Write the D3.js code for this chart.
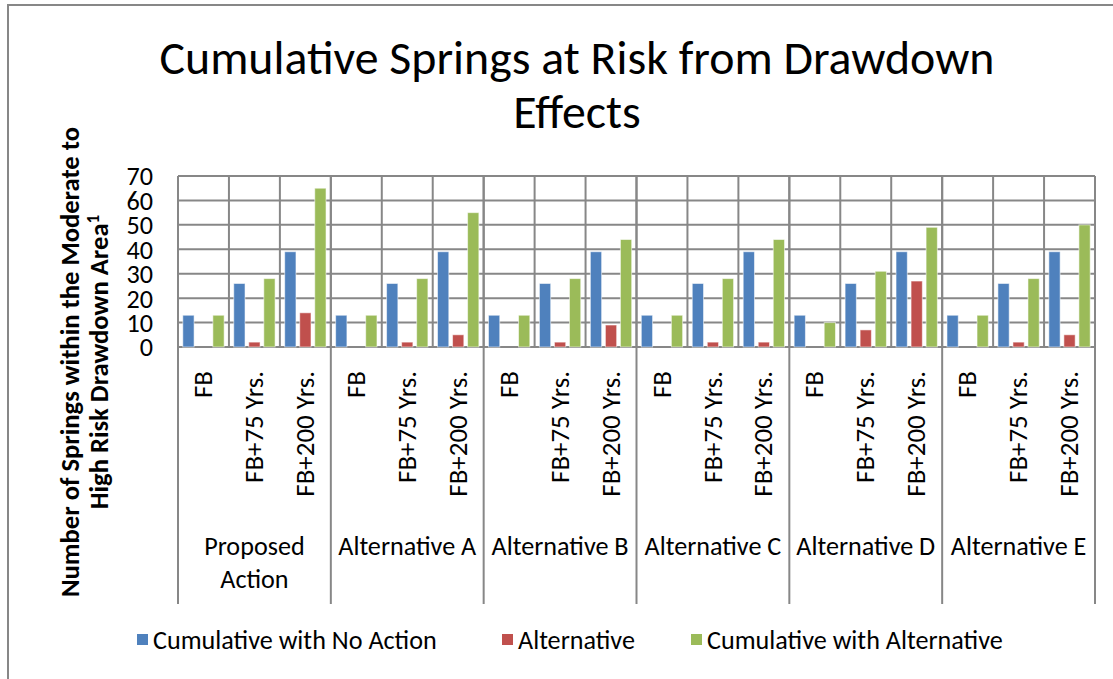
<!DOCTYPE html>
<html>
<head>
<meta charset="utf-8">
<script src="https://cdn.jsdelivr.net/npm/d3@7"></script>
<style>
  body { margin: 0; background: #fff; }
  svg { display: block; }
  text { font-family: Carlito, Lato, sans-serif; fill: #000; }
</style>
</head>
<body>
<div id="chart"></div>
<script>
// chart values
var groups = ["Proposed Action", "Alternative A", "Alternative B", "Alternative C", "Alternative D", "Alternative E"];
var periods = ["FB", "FB+75 Yrs.", "FB+200 Yrs."];
var seriesNames = ["Cumulative with No Action", "Alternative", "Cumulative with Alternative"];
var noAction = [13, 26, 39, 13, 26, 39, 13, 26, 39, 13, 26, 39, 13, 26, 39, 13, 26, 39];
var alternative = [0, 2, 14, 0, 2, 5, 0, 2, 9, 0, 2, 2, 0, 7, 27, 0, 2, 5];
var withAlternative = [13, 28, 65, 13, 28, 55, 13, 28, 44, 13, 28, 44, 10, 31, 49, 13, 28, 50];
var yTicks = [0, 10, 20, 30, 40, 50, 60, 70];

var colors = ["#4F81BD", "#C0504D", "#9BBB59"];
var gridColor = "#878787";

var width = 1113, height = 679;
var plotLeft = 178, plotRight = 1095, plotTop = 176, plotBottom = 347, axisBottom = 604;

var svg = d3.select("#chart").append("svg")
    .attr("width", width)
    .attr("height", height);

// outer chart border (runs off the right and bottom of the picture)
svg.append("rect")
    .attr("x", 8).attr("y", 5)
    .attr("width", width + 20).attr("height", height + 20)
    .attr("fill", "none")
    .attr("stroke", gridColor)
    .attr("stroke-width", 2);

// work out font sizes so the text widths match the picture
function sizeFor(txt, target, weight) {
    var t = svg.append("text").attr("font-size", 100).attr("font-weight", weight || "normal").text(txt);
    var w = t.node().getComputedTextLength();
    t.remove();
    return 100 * target / w;
}
var axisSize = sizeFor("Alternative", 117);
var titleSize = sizeFor("Cumulative Springs at Risk from Drawdown", 835);
var yTitleSize = sizeFor("Number of Springs within the Moderate to", 470, "bold");

// one row per category (group x period)
var rows = [];
groups.forEach(function(g, gi) {
    periods.forEach(function(p, pi) {
        var i = gi * periods.length + pi;
        rows.push({ key: g + "|" + p, group: g, period: p, values: [noAction[i], alternative[i], withAlternative[i]] });
    });
});

var x = d3.scaleBand()
    .domain(rows.map(function(d) { return d.key; }))
    .range([plotLeft, plotRight]);

var xGroup = d3.scaleBand()
    .domain(groups)
    .range([plotLeft, plotRight]);

var xSeries = d3.scaleBand()
    .domain(d3.range(seriesNames.length))
    .range([0, x.bandwidth()])
    .paddingInner(0.25)
    .paddingOuter(0.32);

var y = d3.scaleLinear()
    .domain([0, 70])
    .range([plotBottom, plotTop]);

// horizontal gridlines
svg.append("g")
    .selectAll("line")
    .data(yTicks)
    .enter().append("line")
    .attr("x1", plotLeft).attr("x2", plotRight)
    .attr("y1", function(d) { return y(d); })
    .attr("y2", function(d) { return y(d); })
    .attr("stroke", gridColor)
    .attr("stroke-width", 2);

// vertical lines between categories inside the plot
svg.append("g")
    .selectAll("line")
    .data(rows)
    .enter().append("line")
    .attr("x1", function(d) { return x(d.key); })
    .attr("x2", function(d) { return x(d.key); })
    .attr("y1", plotTop).attr("y2", plotBottom)
    .attr("stroke", gridColor)
    .attr("stroke-width", 2);

// group separators, running down through the axis labels
svg.append("g")
    .selectAll("line")
    .data(groups.concat(["end"]))
    .enter().append("line")
    .attr("x1", function(d) { return d === "end" ? plotRight : xGroup(d); })
    .attr("x2", function(d) { return d === "end" ? plotRight : xGroup(d); })
    .attr("y1", plotTop).attr("y2", axisBottom)
    .attr("stroke", gridColor)
    .attr("stroke-width", 2);

// bars
var cat = svg.append("g")
    .selectAll("g")
    .data(rows)
    .enter().append("g")
    .attr("transform", function(d) { return "translate(" + x(d.key) + ",0)"; });

cat.selectAll("rect")
    .data(function(d) { return d.values.map(function(v, i) { return { v: v, i: i }; }).filter(function(e) { return e.v > 0; }); })
    .enter().append("rect")
    .attr("x", function(d) { return xSeries(d.i); })
    .attr("width", xSeries.bandwidth())
    .attr("y", function(d) { return y(d.v); })
    .attr("height", function(d) { return y(0) - y(d.v); })
    .attr("fill", function(d) { return colors[d.i]; })
    .attr("stroke", "#ffffff")
    .attr("stroke-opacity", 0.55)
    .attr("stroke-width", 1);

// y tick labels
svg.append("g")
    .selectAll("text")
    .data(yTicks)
    .enter().append("text")
    .attr("x", 153)
    .attr("y", function(d) { return y(d); })
    .attr("dy", "0.36em")
    .attr("text-anchor", "end")
    .attr("font-size", axisSize)
    .text(function(d) { return d; });

// period labels, turned on their side
svg.append("g")
    .selectAll("text")
    .data(rows)
    .enter().append("text")
    .attr("transform", function(d) {
        return "translate(" + (x(d.key) + x.bandwidth() / 2 + axisSize * 0.33) + ",371) rotate(-90)";
    })
    .attr("text-anchor", "end")
    .attr("font-size", axisSize * 1.03)
    .text(function(d) { return d.period; });

// group labels, wrapped when too wide for their slot
var gl = svg.append("g")
    .selectAll("text")
    .data(groups)
    .enter().append("text")
    .attr("text-anchor", "middle")
    .attr("font-size", axisSize)
    .attr("x", function(d) { return xGroup(d) + xGroup.bandwidth() / 2; })
    .attr("y", 555);

gl.each(function(d) {
    var t = d3.select(this);
    t.text(d);
    if (this.getComputedTextLength() > xGroup.bandwidth() - 6) {
        t.text(null);
        d.split(" ").forEach(function(word, i) {
            t.append("tspan")
                .attr("x", t.attr("x"))
                .attr("dy", i === 0 ? 0 : axisSize * 1.27)
                .text(word);
        });
    }
});

// chart title
svg.append("text")
    .attr("x", 577)
    .attr("text-anchor", "middle")
    .attr("font-size", titleSize)
    .selectAll("tspan")
    .data(["Cumulative Springs at Risk from Drawdown", "Effects"])
    .enter().append("tspan")
    .attr("x", 577)
    .attr("y", function(d, i) { return 74 + i * 54; })
    .text(function(d) { return d; });

// y axis title
var yt = svg.append("text")
    .attr("transform", "translate(0,362) rotate(-90)")
    .attr("text-anchor", "middle")
    .attr("font-size", yTitleSize)
    .attr("font-weight", "bold");
yt.append("tspan").attr("x", 0).attr("y", 79).text("Number of Springs within the Moderate to");
yt.append("tspan").attr("x", 0).attr("y", 108).text("High Risk Drawdown Area");
yt.append("tspan").attr("dy", -yTitleSize * 0.35).attr("font-size", yTitleSize * 0.65).text("1");

// legend
var legendX = [137, 502, 691];
var lg = svg.append("g")
    .selectAll("g")
    .data(seriesNames)
    .enter().append("g")
    .attr("transform", function(d, i) { return "translate(" + legendX[i] + ",634)"; });

lg.append("rect")
    .attr("width", 11).attr("height", 11)
    .attr("fill", function(d, i) { return colors[i]; });

lg.append("text")
    .attr("x", 16)
    .attr("y", 5.5)
    .attr("dy", "0.36em")
    .attr("font-size", axisSize)
    .text(function(d) { return d; });
</script>
</body>
</html>
